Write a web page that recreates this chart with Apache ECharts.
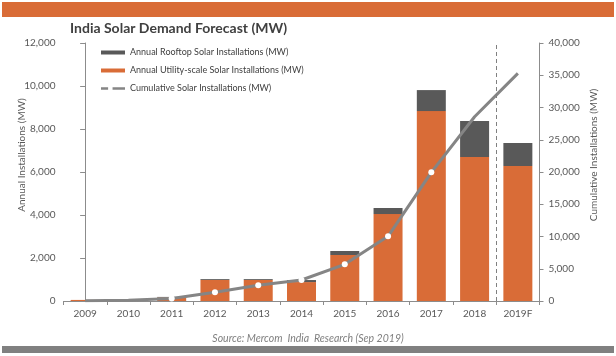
<!DOCTYPE html>
<html>
<head>
<meta charset="utf-8">
<script src="https://cdn.jsdelivr.net/npm/echarts@6/dist/echarts.min.js"></script>
<style>
html,body{margin:0;padding:0;background:#fff;}
#chart{width:616px;height:356px;}
</style>
</head>
<body>
<div id="chart"></div>
<script>
const categories = ['2009','2010','2011','2012','2013','2014','2015','2016','2017','2018','2019F'];
const utilityScale = [50, 30, 160, 980, 980, 880, 2140, 4045, 8835, 6700, 6280];
const rooftop = [0, 0, 30, 40, 40, 95, 185, 280, 975, 1670, 1070];
const cumulative = [30, 100, 400, 1350, 2430, 3260, 5690, 10030, 19950, 28570, 35290];
const leftTicks = { min: 0, max: 12000, interval: 2000 };
const rightTicks = { min: 0, max: 40000, interval: 5000 };
const forecastBoundary = 9.5; // between 2018 and 2019F (category index space)

const FONT = "Lato, 'Liberation Sans', sans-serif";
const ORANGE = '#D96C37';
const DARK = '#595959';
const LINE = '#858585';
const AXIS = '#8C8C8C';
const TXT = '#595959';

const markerYears = ['2011','2012','2013','2014','2015','2016','2017'];
const cumData = cumulative.map((v, i) => markerYears.includes(categories[i]) ? v : { value: v, symbol: 'none' });

const fmt = v => Number(v).toLocaleString('en-US');

const chart = echarts.init(document.getElementById('chart'), null, { renderer: 'canvas' });
chart.setOption({
  animation: false,
  backgroundColor: '#fff',
  textStyle: { fontFamily: FONT },
  graphic: [
    { type: 'rect', shape: { x: 2, y: 2, width: 612, height: 15 }, style: { fill: ORANGE }, silent: true },
    { type: 'rect', shape: { x: 2, y: 346, width: 612, height: 7 }, style: { fill: '#808080' }, silent: true }
  ],
  title: [
    { text: 'India Solar Demand Forecast (MW)', left: 70, top: 21, padding: 0,
      textStyle: { fontFamily: FONT, fontSize: 14, fontWeight: 'bold', color: '#404040' } },
    { text: 'Source: Mercom  India  Research (Sep 2019)', left: 'center', top: 333, padding: 0,
      textStyle: { fontFamily: FONT, fontSize: 10.5, fontStyle: 'italic', fontWeight: 'normal', color: '#7F7F7F' } }
  ],
  legend: {
    orient: 'vertical', left: 101, top: 48, padding: 0,
    itemWidth: 24, itemHeight: 4, itemGap: 9,
    textStyle: { fontFamily: FONT, fontSize: 9, color: '#404040' },
    data: [
      { name: 'Annual Rooftop Solar Installations (MW)', icon: 'rect' },
      { name: 'Annual Utility-scale Solar Installations (MW)', icon: 'rect' },
      { name: 'Cumulative Solar Installations (MW)', icon: 'path://M0,0H8V3H0Z M13,0H27V3H13Z', itemStyle: { color: LINE } }
    ]
  },
  grid: { left: 63.5, right: 76.5, top: 43, bottom: 55, containLabel: false, outerBoundsMode: 'none' },
  xAxis: [
    { type: 'category', data: categories, boundaryGap: true,
      axisLine: { lineStyle: { color: AXIS } },
      axisTick: { show: true, length: 4, lineStyle: { color: AXIS } },
      axisLabel: { color: TXT, fontSize: 10, margin: 8, fontFamily: FONT },
      splitLine: { show: false } },
    { type: 'value', show: false, min: -0.5, max: categories.length - 0.5, position: 'bottom' }
  ],
  yAxis: [
    { type: 'value', min: leftTicks.min, max: leftTicks.max, interval: leftTicks.interval, position: 'left',
      name: 'Annual Installations (MW)', nameLocation: 'middle', nameGap: 37, nameMoveOverlap: false,
      nameTextStyle: { color: TXT, fontSize: 10, fontFamily: FONT, padding: [0, 0, 0, 34] },
      axisLine: { show: true, lineStyle: { color: AXIS } },
      axisTick: { show: true, length: 5, lineStyle: { color: AXIS } },
      axisLabel: { color: TXT, fontSize: 10, margin: 8, formatter: fmt, fontFamily: FONT },
      splitLine: { show: false } },
    { type: 'value', min: rightTicks.min, max: rightTicks.max, interval: rightTicks.interval, position: 'right',
      name: 'Cumulative Installations (MW)', nameLocation: 'middle', nameGap: 49, nameMoveOverlap: false,
      nameTextStyle: { color: TXT, fontSize: 10, fontFamily: FONT, padding: [0, 0, 0, 34] },
      axisLine: { show: true, lineStyle: { color: AXIS } },
      axisTick: { show: true, length: 4, lineStyle: { color: AXIS } },
      axisLabel: { color: TXT, fontSize: 10, margin: 9, formatter: fmt, fontFamily: FONT },
      splitLine: { show: false } }
  ],
  series: [
    { name: 'Annual Utility-scale Solar Installations (MW)', type: 'bar', stack: 'annual', yAxisIndex: 0,
      barWidth: '67%', itemStyle: { color: ORANGE }, data: utilityScale },
    { name: 'Annual Rooftop Solar Installations (MW)', type: 'bar', stack: 'annual', yAxisIndex: 0,
      barWidth: '67%', itemStyle: { color: DARK }, data: rooftop },
    { name: 'forecast-divider', type: 'line', xAxisIndex: 1, yAxisIndex: 0, data: [],
      markLine: { silent: true, symbol: 'none', label: { show: false },
        lineStyle: { color: '#808080', type: [4, 3], width: 1 },
        data: [{ xAxis: forecastBoundary }] } },
    { name: 'Cumulative Solar Installations (MW)', type: 'line', yAxisIndex: 1,
      data: cumData, symbol: 'circle', symbolSize: 6, showSymbol: true,
      lineStyle: { color: LINE, width: 3 },
      itemStyle: { color: '#FFFFFF', borderWidth: 0 } }
  ]
});
</script>
</body>
</html>
